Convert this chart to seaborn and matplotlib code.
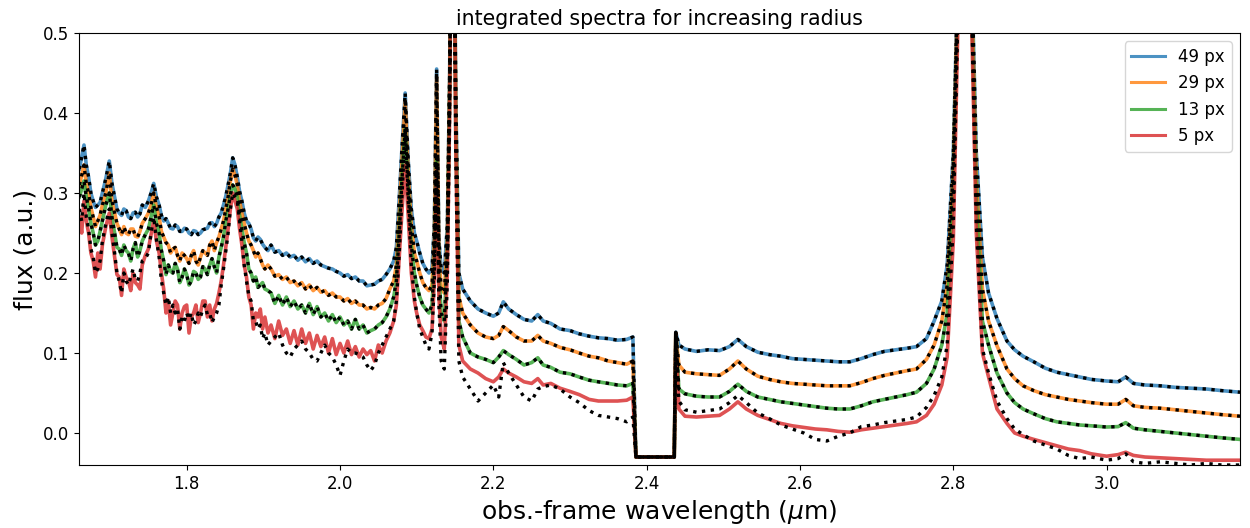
import numpy as np
import pandas as pd
import matplotlib
matplotlib.use("Agg")
import matplotlib.pyplot as plt
import seaborn as sns

# wavelength grid (micron)
wavelength = [
    1.660, 1.663, 1.666, 1.669, 1.672, 1.675, 1.678, 1.681, 1.684, 1.687,
    1.690, 1.6945, 1.699, 1.7025, 1.706, 1.709, 1.712, 1.715, 1.718, 1.721,
    1.724, 1.727, 1.730, 1.733, 1.736, 1.739, 1.742, 1.746, 1.750, 1.7535,
    1.757, 1.7605, 1.764, 1.767, 1.770, 1.773, 1.776, 1.779, 1.782, 1.785,
    1.788, 1.791, 1.794, 1.797, 1.800, 1.803, 1.806, 1.809, 1.812, 1.815,
    1.818, 1.821, 1.824, 1.827, 1.830, 1.833, 1.836, 1.839, 1.842, 1.845,
    1.848, 1.851, 1.854, 1.857, 1.860, 1.863, 1.866, 1.869, 1.872, 1.875,
    1.878, 1.881, 1.884, 1.887, 1.890, 1.893, 1.896, 1.899, 1.902,
    1.906, 1.910, 1.915, 1.920, 1.925, 1.930, 1.935, 1.940, 1.945, 1.950,
    1.955, 1.960, 1.965, 1.970, 1.975, 1.980, 1.985, 1.990, 1.995, 2.000,
    2.005, 2.010, 2.015, 2.020, 2.025, 2.030, 2.035, 2.040, 2.045, 2.050,
    2.055, 2.060,
    2.065, 2.070, 2.0735, 2.077, 2.081, 2.085, 2.089, 2.093, 2.097, 2.100,
    2.104, 2.108, 2.112, 2.116, 2.120, 2.123, 2.126, 2.129, 2.132, 2.136,
    2.140, 2.143, 2.147, 2.151, 2.155, 2.160,
    2.170, 2.180, 2.190, 2.200, 2.207, 2.213, 2.220, 2.230, 2.240,
    2.250, 2.258, 2.265, 2.275, 2.287, 2.300, 2.312, 2.325, 2.337, 2.350,
    2.362, 2.374, 2.382, 2.386, 2.436, 2.438, 2.442,
    2.450, 2.465, 2.480, 2.495, 2.508, 2.519, 2.530, 2.545, 2.560, 2.575,
    2.590, 2.605, 2.620, 2.635, 2.650, 2.665, 2.680, 2.695, 2.710, 2.725,
    2.740, 2.752, 2.765, 2.775, 2.785, 2.792, 2.800, 2.808, 2.815, 2.822,
    2.830, 2.838, 2.846, 2.857, 2.870, 2.880, 2.891, 2.905, 2.920, 2.935,
    2.950, 2.965, 2.980, 3.000, 3.015, 3.025, 3.035, 3.050, 3.070, 3.090,
    3.110, 3.130, 3.150, 3.174,
]

flux_49 = [
    .330, .345, .360, .335, .320, .300, .290, .282, .285, .288,
    .300, .318, .340, .312, .295, .280, .275, .272, .280, .278,
    .270, .268, .275, .276, .270, .274, .285, .282, .290, .300,
    .312, .295, .285, .272, .265, .268, .262, .256, .255, .260,
    .258, .252, .252, .256, .255, .250, .248, .253, .252, .248,
    .250, .254, .255, .256, .262, .263, .258, .262, .270, .275,
    .285, .296, .310, .325, .344, .335, .320, .302, .290, .275,
    .265, .262, .255, .244, .240, .245, .242, .236, .232,
    .228, .235, .226, .228, .222, .225, .220, .222, .216, .220,
    .214, .218, .212, .215, .210, .208, .206, .205, .202, .200,
    .196, .198, .193, .195, .190, .190, .184, .185, .186, .190,
    .192, .198,
    .205, .215, .232, .290, .360, .425, .340, .280, .250, .240,
    .225, .212, .205, .200, .205, .260, .455, .240, .205, .200,
    .260, .450, .900, .420, .200, .180,
    .165, .155, .150, .146, .150, .164, .155, .148, .142,
    .140, .148, .140, .137, .130, .128, .124, .121, .119, .118,
    .116, .117, .120, -.030, -.030, .126, .110,
    .105, .102, .104, .103, .108, .117, .108, .101, .098, .096,
    .093, .092, .091, .090, .089, .089, .093, .098, .102, .104,
    .106, .108, .118, .140, .165, .210, .350, .650, .800, .650,
    .350, .220, .175, .143, .115, .104, .096, .089, .081, .076,
    .073, .070, .067, .065, .064, .070, .062, .060, .059, .057,
    .056, .055, .053, .051,
]

flux_29 = [
    .310, .322, .335, .312, .300, .282, .270, .258, .265, .272,
    .285, .300, .325, .290, .275, .262, .255, .248, .258, .250,
    .248, .255, .255, .246, .245, .252, .262, .268, .275, .285,
    .300, .282, .270, .252, .245, .238, .235, .225, .230, .232,
    .222, .215, .225, .222, .218, .212, .222, .228, .215, .210,
    .220, .228, .225, .222, .235, .240, .228, .238, .245, .255,
    .265, .280, .295, .315, .330, .322, .310, .290, .275, .262,
    .250, .240, .235, .228, .220, .225, .218, .210, .205,
    .210, .205, .196, .198, .192, .195, .188, .190, .184, .188,
    .180, .185, .178, .182, .176, .178, .172, .175, .170, .170,
    .165, .168, .162, .165, .160, .160, .155, .157, .155, .160,
    .162, .168,
    .180, .190, .210, .270, .345, .415, .325, .260, .225, .215,
    .200, .188, .182, .178, .185, .240, .445, .225, .180, .175,
    .245, .440, .900, .400, .170, .150,
    .135, .125, .120, .118, .122, .133, .128, .120, .115,
    .115, .122, .115, .112, .107, .104, .100, .096, .094, .090,
    .088, .086, .090, -.030, -.030, .125, .085,
    .076, .074, .073, .072, .080, .090, .080, .071, .067, .064,
    .062, .061, .060, .059, .059, .059, .063, .068, .072, .075,
    .078, .080, .092, .110, .140, .185, .330, .640, .800, .640,
    .320, .180, .140, .109, .080, .068, .059, .053, .048, .045,
    .042, .040, .038, .036, .036, .042, .034, .032, .031, .029,
    .027, .025, .023, .021,
]

flux_13 = [
    .295, .305, .315, .295, .280, .262, .250, .235, .240, .252,
    .265, .285, .300, .270, .250, .232, .230, .222, .235, .228,
    .225, .215, .230, .238, .220, .228, .240, .248, .255, .270,
    .285, .262, .250, .228, .215, .198, .210, .202, .200, .212,
    .205, .188, .195, .205, .198, .185, .190, .202, .200, .192,
    .195, .208, .205, .198, .210, .218, .208, .200, .220, .232,
    .245, .265, .280, .298, .310, .305, .295, .272, .255, .238,
    .225, .205, .200, .190, .195, .182, .185, .188, .180,
    .178, .175, .162, .172, .160, .170, .158, .165, .155, .160,
    .150, .162, .148, .158, .145, .150, .140, .148, .138, .145,
    .135, .140, .130, .142, .130, .135, .125, .128, .130, .135,
    .138, .145,
    .155, .170, .190, .245, .320, .380, .300, .235, .200, .185,
    .170, .160, .155, .150, .160, .215, .345, .200, .150, .140,
    .225, .420, .900, .380, .140, .120,
    .100, .095, .092, .088, .095, .103, .098, .092, .085,
    .088, .094, .085, .082, .076, .074, .070, .066, .064, .062,
    .060, .059, .062, -.030, -.030, .125, .055,
    .049, .046, .045, .045, .052, .061, .052, .045, .042, .039,
    .037, .035, .033, .031, .030, .030, .034, .039, .042, .045,
    .048, .051, .062, .080, .110, .150, .300, .620, .800, .620,
    .290, .140, .110, .075, .050, .038, .030, .024, .018, .014,
    .012, .010, .009, .0075, .008, .013, .006, .004, .002, .000,
    -.002, -.004, -.006, -.008,
]

flux_5 = [
    .270, .250, .290, .265, .250, .225, .215, .195, .225, .205,
    .235, .258, .275, .245, .220, .198, .195, .172, .205, .195,
    .190, .178, .200, .188, .185, .180, .210, .222, .230, .248,
    .265, .240, .225, .200, .180, .150, .165, .135, .150, .165,
    .160, .130, .150, .158, .160, .125, .145, .150, .160, .138,
    .150, .165, .165, .145, .160, .140, .155, .162, .175, .190,
    .210, .232, .255, .280, .300, .290, .280, .255, .235, .210,
    .195, .170, .160, .130, .150, .145, .155, .130, .145,
    .125, .135, .118, .140, .122, .130, .112, .128, .110, .130,
    .112, .125, .105, .122, .108, .120, .100, .118, .098, .112,
    .100, .115, .098, .108, .095, .105, .098, .103, .090, .110,
    .100, .115,
    .125, .140, .160, .215, .280, .335, .270, .200, .165, .150,
    .135, .128, .120, .118, .130, .190, .330, .170, .120, .105,
    .200, .400, .900, .360, .110, .090,
    .080, .075, .068, .064, .070, .080, .075, .070, .064,
    .062, .068, .060, .062, .056, .052, .048, .042, .040, .040,
    .040, .041, .045, -.030, -.030, .125, .030,
    .021, .020, .021, .022, .030, .039, .030, .022, .017, .012,
    .009, .007, .005, .004, .002, .001, .004, .006, .008, .010,
    .012, .014, .022, .036, .060, .095, .240, .600, .800, .600,
    .250, .100, .070, .030, .012, .000, -.004, -.008, -.012, -.016,
    -.020, -.022, -.026, -.029, -.027, -.024, -.028, -.030, -.031, -.032,
    -.033, -.034, -.034, -.034,
]

# black dotted comparison spectra (same order as the radii)
model_49 = flux_49
model_29 = flux_29
model_13 = flux_13
model_5 = [
    .280, .265, .300, .270, .255, .230, .220, .200, .205, .215,
    .240, .262, .280, .250, .225, .200, .190, .175, .200, .190,
    .185, .195, .205, .192, .190, .200, .215, .218, .225, .250,
    .270, .242, .220, .190, .175, .160, .170, .150, .160, .150,
    .155, .130, .145, .140, .150, .142, .150, .135, .140, .150,
    .145, .155, .160, .148, .150, .138, .145, .150, .160, .185,
    .205, .228, .250, .280, .300, .295, .290, .265, .240, .210,
    .190, .172, .165, .140, .140, .130, .135, .118, .125,
    .110, .115, .120, .125, .110, .100, .095, .105, .110, .115,
    .105, .100, .092, .090, .100, .110, .100, .095, .085, .072,
    .090, .105, .100, .100, .098, .095, .085, .078, .085, .100,
    .110, .120,
    .130, .140, .165, .220, .300, .380, .290, .210, .170, .150,
    .130, .120, .110, .105, .125, .190, .330, .160, .090, .080,
    .190, .400, .900, .350, .090, .070,
    .055, .040, .050, .060, .045, .088, .075, .060, .045,
    .040, .055, .058, .060, .055, .045, .038, .028, .022, .020,
    .018, .014, .020, -.030, -.030, .125, .040,
    .029, .026, .028, .030, .038, .047, .038, .025, .018, .010,
    .005, .000, -.008, -.010, -.004, .000, .008, .010, .013, .015,
    .017, .020, .032, .047, .070, .110, .260, .620, .800, .620,
    .260, .105, .075, .040, .018, .005, -.002, -.010, -.015, -.020,
    -.028, -.032, -.030, -.034, -.032, -.026, -.036, -.038, -.036, -.038,
    -.040, -.038, -.040, -.040,
]

radius_labels = ["49 px", "29 px", "13 px", "5 px"]
series = [flux_49, flux_29, flux_13, flux_5]
models = [model_49, model_29, model_13, model_5]
for s in series + models:
    assert len(s) == len(wavelength), (len(s), len(wavelength))

rows = []
for lab, vals in zip(radius_labels, series):
    for w, v in zip(wavelength, vals):
        rows.append({"wavelength": w, "flux": v, "radius": lab})
df = pd.DataFrame(rows)

mrows = []
for lab, vals in zip(radius_labels, models):
    for w, v in zip(wavelength, vals):
        mrows.append({"wavelength": w, "flux": v, "radius": lab})
dfm = pd.DataFrame(mrows)

fig = plt.figure(figsize=(12.5, 5.28), dpi=100)
ax = fig.add_axes([0.0632, 0.1193, 0.9288, 0.8182])

palette = dict(zip(radius_labels, ["#1f77b4", "#ff7f0e", "#2ca02c", "#d62728"]))
sns.lineplot(data=df, x="wavelength", y="flux", hue="radius", hue_order=radius_labels,
             palette=palette, linewidth=2.6, alpha=0.8, ax=ax, sort=False, estimator=None)
for lab in radius_labels:
    sub = dfm[dfm["radius"] == lab]
    sns.lineplot(data=sub, x="wavelength", y="flux", color="black", linestyle=":",
                 linewidth=2.4, ax=ax, sort=False, estimator=None, legend=False)

ax.set_xlim(1.6595, 3.174)
ax.set_ylim(-0.04, 0.5)
ax.set_xticks([1.8, 2.0, 2.2, 2.4, 2.6, 2.8, 3.0])
ax.set_yticks([0.0, 0.1, 0.2, 0.3, 0.4, 0.5])
ax.tick_params(labelsize=12)
ax.set_xlabel(r"obs.-frame wavelength ($\mu$m)", fontsize=18)
ax.set_ylabel("flux (a.u.)", fontsize=18)
ax.set_title("integrated spectra for increasing radius", fontsize=14.8)
leg = ax.legend(loc="upper right", fontsize=12, title=None)
for h in leg.get_lines():
    h.set_alpha(0.8)
    h.set_linewidth(2.2)

fig.savefig("out.png", dpi=100)
